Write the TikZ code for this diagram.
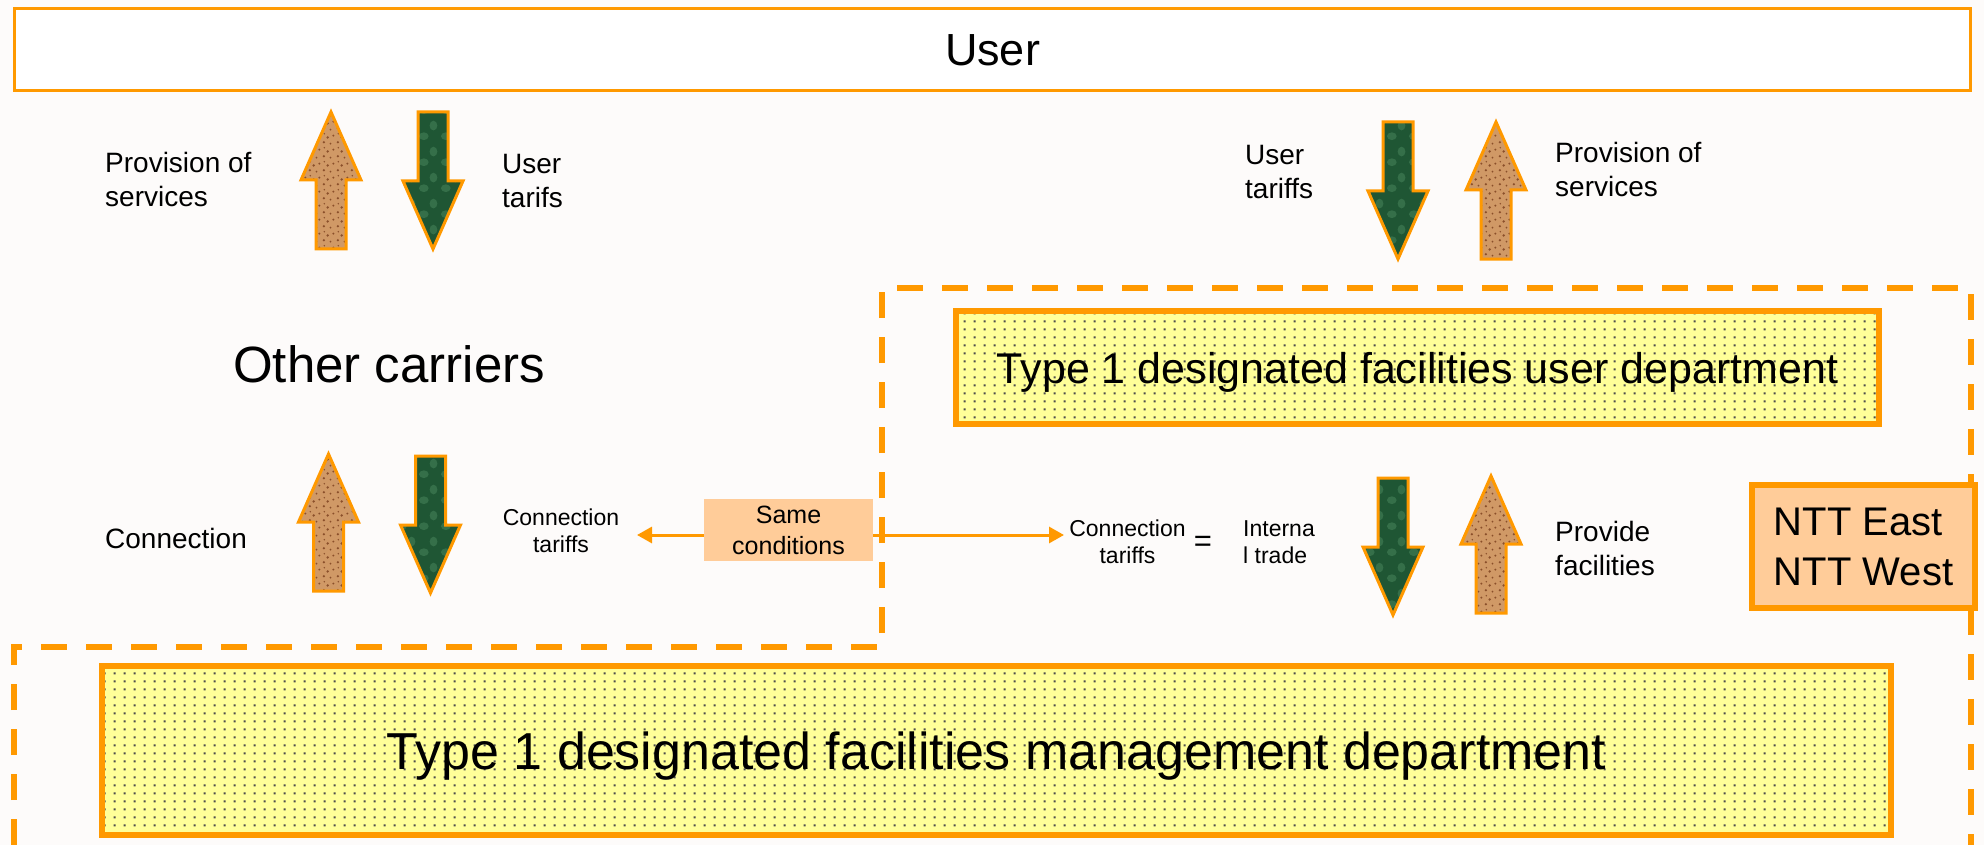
\documentclass[tikz,border=0pt]{standalone}
\usepackage{fontspec}
\setmainfont{Liberation Sans}
\usetikzlibrary{arrows.meta,patterns}
\definecolor{org}{HTML}{FF9900}
\definecolor{peach}{HTML}{FFCC99}
\definecolor{ylw}{HTML}{FFFF99}
\definecolor{arrowtan}{HTML}{D09966}
\definecolor{tanspeck}{HTML}{8A4F2A}
\definecolor{arrowgreen}{HTML}{1F5634}
\definecolor{greenmottle}{HTML}{356F49}
\definecolor{bgc}{HTML}{FDFBFA}
\pgfdeclarepatternformonly{ydots}{\pgfqpoint{0pt}{0pt}}{\pgfqpoint{10pt}{8pt}}{\pgfqpoint{10pt}{8pt}}{\pgfpathrectangle{\pgfqpoint{4pt}{3pt}}{\pgfqpoint{2.2pt}{2.2pt}}\pgfusepath{fill}}
\pgfdeclarepatternformonly{speckle}{\pgfqpoint{0pt}{0pt}}{\pgfqpoint{14pt}{14pt}}{\pgfqpoint{14pt}{14pt}}{%
  \pgfpathcircle{\pgfqpoint{2pt}{3pt}}{1.3pt}%
  \pgfpathcircle{\pgfqpoint{9pt}{1.5pt}}{1pt}%
  \pgfpathcircle{\pgfqpoint{6pt}{8pt}}{1.4pt}%
  \pgfpathcircle{\pgfqpoint{12pt}{10pt}}{1.1pt}%
  \pgfpathcircle{\pgfqpoint{2.5pt}{12pt}}{0.9pt}%
  \pgfusepath{fill}}
\pgfdeclarepatternformonly{mottle}{\pgfqpoint{0pt}{0pt}}{\pgfqpoint{22pt}{26pt}}{\pgfqpoint{22pt}{26pt}}{%
  \pgfpathellipse{\pgfqpoint{6pt}{7pt}}{\pgfqpoint{5pt}{0pt}}{\pgfqpoint{0pt}{4pt}}%
  \pgfpathellipse{\pgfqpoint{16pt}{18pt}}{\pgfqpoint{4pt}{0pt}}{\pgfqpoint{0pt}{5pt}}%
  \pgfusepath{fill}}
\newcommand\fsz[2]{\fontsize{#1}{#2}\selectfont}
\newcommand\leftlines[2]{\vtop{\hbox{#1}\hbox{#2}}}
\newcommand\centerlines[2]{\vtop{\halign{\hfil##\hfil\cr#1\cr#2\cr}}}
\tikzset{
  lbl/.style={inner sep=0pt, anchor=base west},
  clbl/.style={inner sep=0pt, anchor=base},
  dotbox/.style={draw=org, line width=6pt, preaction={fill=ylw},
    preaction={pattern=ydots, pattern color=black!70}, inner sep=0pt},
  arrowline/.style={draw=org, line width=3pt, line join=miter},
  uparrow/.pic={\path[fill=arrowtan, postaction={pattern=speckle, pattern color=tanspeck}]
      (0,0) -- (30,68) -- (15,68) -- (15,137) -- (-15,137) -- (-15,68) -- (-30,68) -- cycle;
    \draw[arrowline] (0,0) -- (30,68) -- (15,68) -- (15,137) -- (-15,137) -- (-15,68) -- (-30,68) -- cycle;},
  downarrow/.pic={\path[fill=arrowgreen, postaction={pattern=mottle, pattern color=greenmottle}]
      (0,0) -- (30,-68) -- (15,-68) -- (15,-137) -- (-15,-137) -- (-15,-68) -- (-30,-68) -- cycle;
    \draw[arrowline] (0,0) -- (30,-68) -- (15,-68) -- (15,-137) -- (-15,-137) -- (-15,-68) -- (-30,-68) -- cycle;},
  conn/.style={draw=org, line width=3pt, -{Triangle[length=15pt,width=16pt]}},
  dashedline/.style={draw=org, line width=6pt, dash pattern=on 26pt off 19pt},
}
\begin{document}
\begin{tikzpicture}[x=1pt,y=-1pt]
\useasboundingbox (0,0) rectangle (1984,845);
\fill[bgc] (0,0) rectangle (1984,845);

% User box
\node[draw=org, line width=3pt, fill=white, minimum width=1956, minimum height=82, inner sep=0pt,
  font=\fsz{45}{54}, text height=32pt, text depth=0pt] (user) at (992.5,49.5) {User};

% dashed outline of NTT East / West
\draw[dashedline] (14,845) -- (14,647) -- (882,647) -- (882,288) -- (1971,288) -- (1971,845);

% boxes
\node[dotbox, minimum width=923, minimum height=113, font=\fsz{43}{52}, text height=31pt, text depth=0pt]
  (userdept) at (1417.5,367.5) {Type 1 designated facilities user department};
\node[dotbox, minimum width=1789, minimum height=169, font=\fsz{52}{62}, text height=37pt, text depth=0pt]
  (mgmt) at (996.5,750.5) {Type 1 designated facilities management department};
\node[draw=org, line width=6pt, fill=peach, minimum width=223, minimum height=123, inner sep=0pt,
  align=left, font=\fsz{40}{50}] (ntt) at (1863.5,546.5) {NTT East\\NTT West};
\node[fill=peach, minimum width=169, minimum height=62, inner sep=0pt, align=center, font=\fsz{25}{31}]
  (same) at (788.5,530) {Same\\conditions};

% texts
\node[lbl, font=\fsz{51}{61}] (oc) at (233,382) {Other carriers};
\node[lbl, font=\fsz{28}{34}] (prov1) at (105,173) {\leftlines{Provision of}{services}};
\node[lbl, font=\fsz{28}{34}] (ut1) at (502,174) {\leftlines{User}{tarifs}};
\node[lbl, font=\fsz{28}{34}] (ut2) at (1245,165) {\leftlines{User}{tariffs}};
\node[lbl, font=\fsz{28}{34}] (prov2) at (1555,163) {\leftlines{Provision of}{services}};
\node[lbl, font=\fsz{28}{34}] (conn) at (105,548) {Connection};
\node[clbl, font=\fsz{23}{27}] (ctl) at (561,525) {\centerlines{Connection}{tariffs}};
\node[clbl, font=\fsz{23}{27}] (ctr) at (1127.5,536) {\centerlines{Connection}{tariffs}};
\node[clbl, font=\fsz{31}{37}] (eq) at (1203,551) {=};
\node[lbl, font=\fsz{23}{27}] (it) at (1243,536) {\leftlines{Interna}{l trade}};
\node[lbl, font=\fsz{28}{34}] (pf) at (1555,541) {\leftlines{Provide}{facilities}};

% big arrows
\pic at (331,112) {uparrow};
\pic at (433,249) {downarrow};
\pic at (1496,122) {uparrow};
\pic at (1398,259) {downarrow};
\pic at (328.5,454) {uparrow};
\pic at (430.5,593) {downarrow};
\pic at (1491,476) {uparrow};
\pic at (1393,615) {downarrow};

% same-conditions connectors
\coordinate (tipL) at (637,535);
\coordinate (tipR) at (1064,535);
\draw[conn] (same.west |- tipL) -- (tipL);
\draw[conn] (same.east |- tipR) -- (tipR);
\end{tikzpicture}
\end{document}
